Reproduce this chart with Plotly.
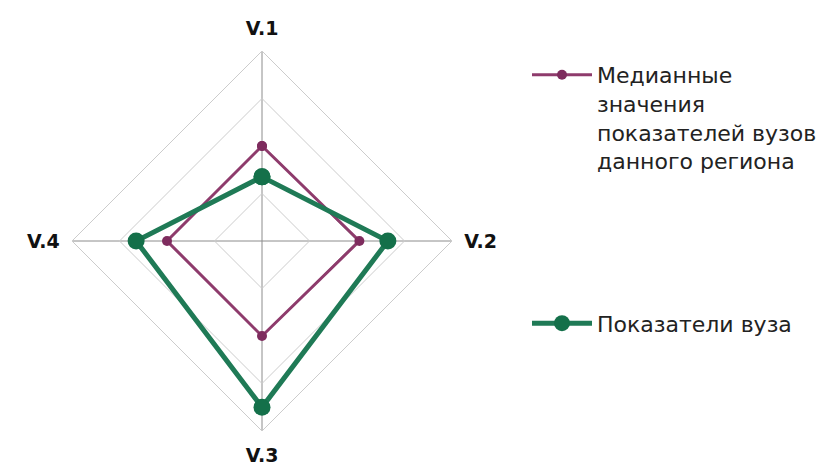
import plotly.graph_objects as go

# axes of the radar (clockwise from top)
categories = ["V.1", "V.2", "V.3", "V.4"]

# series values (rings at 1, 2, 3, 4)
median_region = [2.0, 2.05, 2.0, 2.0]
university = [1.35, 2.65, 3.5, 2.65]

median_name = "Медианные<br>значения<br>показателей вузов<br>данного региона"
university_name = "Показатели вуза"

radial_ticks = [1, 2, 3, 4]


def closed(values):
    # repeat the first point so the polygon closes
    return values + values[:1]


fig = go.Figure()

fig.add_trace(go.Scatterpolar(
    r=closed(median_region),
    theta=closed(categories),
    name=median_name,
    mode="lines+markers",
    line=dict(color="#8E3B6C", width=3),
    marker=dict(color="#7E2C5E", size=10),
    legendgroup="a",
))

fig.add_trace(go.Scatterpolar(
    r=closed(university),
    theta=closed(categories),
    name=university_name,
    mode="lines+markers",
    line=dict(color="#1F7A56", width=5),
    marker=dict(color="#14704A", size=17),
    legendgroup="b",
))

# the page body has an 8px margin, so work in figure coords (page - 8)
W, H = 823, 458
cx, cy, rad = 254, 233, 190

fig.update_layout(
    width=W,
    height=H,
    margin=dict(l=0, r=0, t=0, b=0),
    paper_bgcolor="white",
    plot_bgcolor="white",
    polar=dict(
        domain=dict(
            x=[(cx - rad) / W, (cx + rad) / W],
            y=[(H - cy - rad) / H, (H - cy + rad) / H],
        ),
        bgcolor="white",
        gridshape="linear",
        radialaxis=dict(
            range=[0, 4],
            tickvals=radial_ticks,
            showticklabels=False,
            showline=False,
            ticks="",
            gridcolor="#CCCCCC",
            gridwidth=1,
        ),
        angularaxis=dict(
            direction="clockwise",
            rotation=90,
            categoryorder="array",
            categoryarray=categories,
            linecolor="#CCCCCC",
            linewidth=1,
            gridcolor="#8C8C8C",
            gridwidth=1,
            ticks="outside",
            ticklen=8,
            tickcolor="rgba(0,0,0,0)",
            tickfont=dict(family="DejaVu Sans", size=19, color="#111111",
                          weight="bold"),
        ),
    ),
    legend=dict(
        x=519 / W,
        y=(H - 46) / H,
        xanchor="left",
        yanchor="top",
        valign="top",
        traceorder="grouped",
        tracegroupgap=131,
        font=dict(family="DejaVu Sans", size=22, color="#222222"),
        itemwidth=60,
        bgcolor="rgba(0,0,0,0)",
    ),
)

fig.write_html("out.html")
